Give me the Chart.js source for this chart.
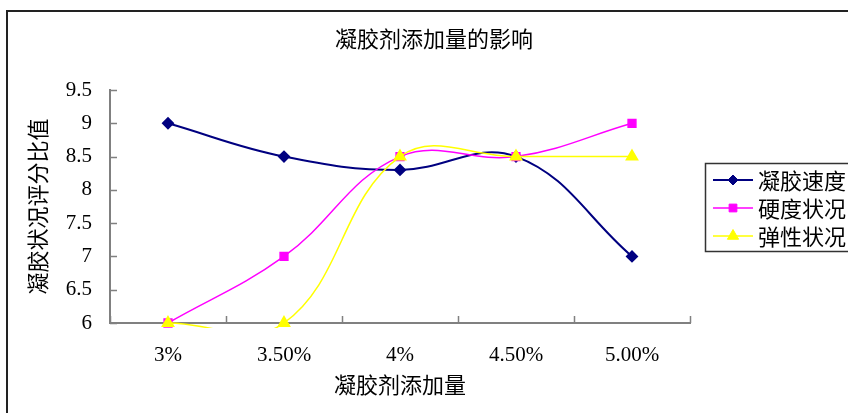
<!DOCTYPE html>
<html>
<head>
<meta charset="utf-8">
<script src="https://cdn.jsdelivr.net/npm/chart.js@4/dist/chart.umd.min.js"></script>
<style>
html,body{margin:0;padding:0;background:#fff;}
canvas{display:block;}
</style>
</head>
<body>
<canvas id="c" width="848" height="413"></canvas>
<script>
// ---- data ----
const categories = ['3%', '3.50%', '4%', '4.50%', '5.00%'];
const seriesNames = ['凝胶速度', '硬度状况', '弹性状况'];
const gelSpeed   = [9, 8.5, 8.3, 8.5, 7];
const hardness   = [6, 7, 8.5, 8.5, 9];
const elasticity = [6, 6, 8.5, 8.5, 8.5];
const yMin = 6, yMax = 9.5, yStep = 0.5;
const chartTitle = '凝胶剂添加量的影响';
const xTitle = '凝胶剂添加量';
const yTitle = '凝胶状况评分比值';

const CJK = "'Noto Sans CJK SC', sans-serif";
const NUM = "'Liberation Serif', 'Noto Sans CJK SC', serif";

const decor = {
  id: 'decor',
  afterDraw(chart) {
    const ctx = chart.ctx;
    const area = chart.chartArea;
    const xs = chart.scales.x, ys = chart.scales.y;
    ctx.save();
    // outer frame
    ctx.strokeStyle = '#222';
    ctx.lineWidth = 2;
    ctx.strokeRect(7, 11, 900, 500);
    // inner tick marks
    ctx.strokeStyle = '#808080';
    ctx.lineWidth = 1.5;
    ctx.beginPath();
    ys.ticks.forEach(t => {
      const y = Math.round(ys.getPixelForValue(t.value)) + 0.5;
      ctx.moveTo(area.left, y);
      ctx.lineTo(area.left + 7, y);
    });
    for (let i = 0; i <= categories.length; i++) {
      const x = Math.round(xs.getPixelForValue(i - 0.5)) + 0.5;
      ctx.moveTo(x, area.bottom);
      ctx.lineTo(x, area.bottom - 7);
    }
    ctx.stroke();
    // legend
    const lx = 705, ly = 163;
    ctx.strokeStyle = '#333';
    ctx.lineWidth = 1.5;
    ctx.strokeRect(lx + 0.5, ly + 0.5, 200, 88);
    ctx.font = "22px " + CJK;
    ctx.textBaseline = 'middle';
    ctx.textAlign = 'left';
    chart.data.datasets.forEach((ds, i) => {
      const y = ly + 17 + i * 28;
      ctx.strokeStyle = ds.borderColor;
      ctx.lineWidth = ds.borderWidth;
      ctx.beginPath();
      ctx.moveTo(lx + 8, y);
      ctx.lineTo(lx + 48, y);
      ctx.stroke();
      ctx.fillStyle = ds.pointBackgroundColor;
      ctx.strokeStyle = ds.pointBorderColor;
      ctx.lineWidth = 1;
      Chart.helpers.drawPoint(ctx, {
        pointStyle: ds.pointStyle, radius: ds.pointRadius, rotation: 0, borderWidth: 1
      }, lx + 28, y);
      ctx.fillStyle = '#000';
      ctx.fillText(ds.label, lx + 53, y + 1);
    });
    ctx.restore();
  }
};

const clipBox = {left: 10, right: 10, top: 10, bottom: 5};

new Chart(document.getElementById('c'), {
  type: 'line',
  data: {
    labels: categories,
    datasets: [
      {label: seriesNames[0], data: gelSpeed, borderColor: '#000080', borderWidth: 2,
       pointStyle: 'rectRot', pointRadius: 5, pointBackgroundColor: '#000080', pointBorderColor: '#000080',
       tension: 0.4, order: 2, clip: clipBox},
      {label: seriesNames[1], data: hardness, borderColor: '#FF00FF', borderWidth: 1.5,
       pointStyle: 'rect', pointRadius: 5.5, pointBackgroundColor: '#FF00FF', pointBorderColor: '#FF00FF',
       tension: 0.4, order: 1, clip: clipBox},
      {label: seriesNames[2], data: elasticity, borderColor: '#FFFF00', borderWidth: 1.5,
       pointStyle: 'triangle', pointRadius: 6.5, pointBackgroundColor: '#FFFF00', pointBorderColor: '#FFFF00',
       tension: 0.4, order: 0, clip: clipBox}
    ]
  },
  options: {
    responsive: false,
    animation: false,
    devicePixelRatio: 1,
    events: [],
    elements: {line: {capBezierPoints: false}},
    layout: {padding: {left: 20, right: 0, top: 0, bottom: 0}},
    plugins: {
      legend: {display: false},
      tooltip: {enabled: false},
      title: {
        display: true, text: chartTitle, color: '#000',
        font: {family: CJK, size: 22, weight: 'normal', lineHeight: 1.2},
        padding: {top: 25, bottom: 38.6}
      }
    },
    scales: {
      x: {
        type: 'category', offset: true,
        grid: {display: false, drawTicks: false},
        border: {display: true, color: '#808080', width: 2},
        ticks: {color: '#000', font: {family: NUM, size: 21}, padding: 20, maxRotation: 0, autoSkip: false},
        title: {display: true, text: xTitle, color: '#000',
                font: {family: CJK, size: 22, lineHeight: 1.2}, padding: {top: 0, bottom: 15}},
        afterFit: s => { s.height = 90; }
      },
      y: {
        type: 'linear', position: 'left', min: yMin, max: yMax,
        grid: {display: false, drawTicks: false},
        border: {display: true, color: '#808080', width: 2},
        ticks: {stepSize: yStep, color: '#000', font: {family: NUM, size: 21}, padding: 18,
                callback: v => String(Number(v))},
        title: {display: true, text: yTitle, color: '#000',
                font: {family: CJK, size: 22, lineHeight: 1.2}, padding: {top: 4, bottom: 0}},
        afterFit: s => { s.width = 90; }
      },
      yR: {
        type: 'linear', position: 'right', display: true,
        grid: {display: false, drawTicks: false},
        border: {display: false},
        ticks: {display: false},
        afterFit: s => { s.width = 158; }
      }
    }
  },
  plugins: [decor]
});
</script>
</body>
</html>
